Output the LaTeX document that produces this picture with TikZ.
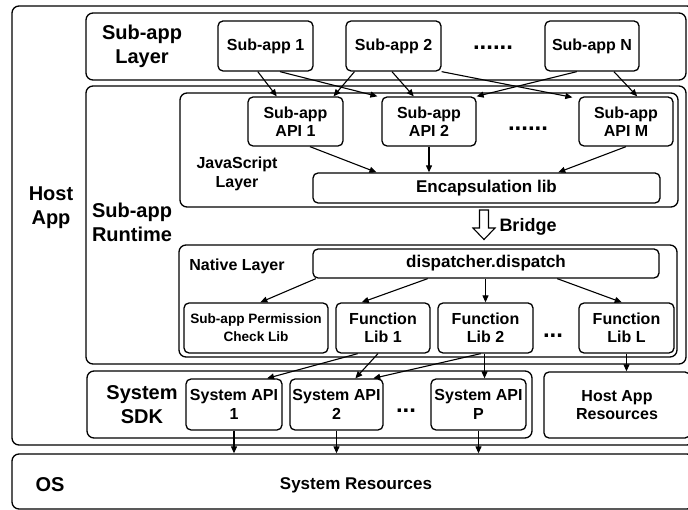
\documentclass[tikz,border=0pt]{standalone}
\usepackage{fontspec}
\setmainfont{Liberation Sans}
\usetikzlibrary{arrows.meta,calc}
\begin{document}
\begin{tikzpicture}[x=1pt,y=-1pt,
  box/.style={draw, rounded corners=5pt, line width=1.3pt, inner sep=0pt, align=center, font=\bfseries\fontsize{16}{18.5}\selectfont},
  grp/.style={draw, rounded corners=7pt, line width=1.3pt, inner sep=0pt},
  lab/.style={align=center, inner sep=0pt, font=\bfseries\fontsize{20}{24}\selectfont},
  arr/.style={line width=1.1pt, -{Triangle[length=7pt,width=6pt]}},
  dotsty/.style={anchor=base, inner sep=0pt, font=\bfseries\fontsize{24}{24}\selectfont}]
\useasboundingbox (0,0) rectangle (688,510);
\fill[white] (0,0) rectangle (688,510);
\clip (0,0) rectangle (688,510);

% group boxes
\node[grp, minimum width=682, minimum height=439] (host) at (353,225.5) {};
\node[grp, minimum width=682, minimum height=55] (os) at (353,481.5) {};
\node[grp, minimum width=600, minimum height=67] (layer) at (386,46.5) {};
\node[grp, minimum width=600, minimum height=278] (runtime) at (386,225) {};
\node[grp, minimum width=498, minimum height=114] (js) at (429,150) {};
\node[grp, minimum width=498, minimum height=112] (native) at (428,301) {};
\node[grp, minimum width=445, minimum height=67] (sdk) at (309.5,404.5) {};

% group labels
\node[lab] (hostlab) at (51,208) {Host\\App};
\node[lab] (oslab) at (50,485) {OS};
\node[box, draw=none, font=\bfseries\fontsize{17}{19}\selectfont] (sysres) at (356,485) {System Resources};
\node[lab] (layerlab) at (142,46) {Sub-app\\Layer};
\node[lab] (rtlab) at (132,222) {Sub-app\\Runtime};
\node[box, draw=none] (jslab) at (237,174) {JavaScript\\Layer};
\node[box, draw=none] (natlab) at (237,266) {Native Layer};
\node[lab] (sdklab) at (142,405) {System\\SDK};

% sub-apps
\node[box, minimum width=95, minimum height=50] (sa1) at (265.5,46) {Sub-app 1};
\node[box, minimum width=95, minimum height=50] (sa2) at (393.5,46) {Sub-app 2};
\node[box, minimum width=94, minimum height=50] (saN) at (592,46) {Sub-app N};
\node[dotsty] (d1) at (493,49.5) {......};

% APIs
\node[box, minimum width=95, minimum height=49] (api1) at (295.5,121.5) {Sub-app\\API 1};
\node[box, minimum width=94, minimum height=49] (api2) at (429,121.5) {Sub-app\\API 2};
\node[box, minimum width=94, minimum height=49] (apiM) at (626,121.5) {Sub-app\\API M};
\node[dotsty] (d2) at (528,131) {......};
\node[box, minimum width=347, minimum height=30, font=\bfseries\fontsize{17}{19}\selectfont] (enc) at (486.5,188) {Encapsulation lib};

% bridge
\draw[line width=1.1pt, fill=white] (479.5,210) -- (488.5,210) -- (488.5,228) -- (495,228) -- (484,239.5) -- (473,228) -- (479.5,228) -- cycle;
\node[box, draw=none, font=\bfseries\fontsize{18}{20}\selectfont] (bridge) at (528,227) {Bridge};

% native
\node[box, minimum width=346, minimum height=29, font=\bfseries\fontsize{17}{19}\selectfont] (disp) at (486,263.5) {dispatcher.dispatch};
\node[box, minimum width=144, minimum height=50, font=\bfseries\fontsize{13.6}{18}\selectfont] (perm) at (256,328) {Sub-app Permission\\Check Lib};
\node[box, minimum width=94, minimum height=50] (lib1) at (383,328) {Function\\Lib 1};
\node[box, minimum width=95, minimum height=50] (lib2) at (485.5,328) {Function\\Lib 2};
\node[box, minimum width=95, minimum height=50] (libL) at (626.5,328) {Function\\Lib L};
\node[dotsty] (d3) at (553,337.5) {...};

% sdk
\node[box, minimum width=96, minimum height=51] (sys1) at (234,404.5) {System API\\1};
\node[box, minimum width=93, minimum height=51] (sys2) at (336.5,404.5) {System API\\2};
\node[box, minimum width=95, minimum height=51] (sysP) at (478.5,404.5) {System API\\P};
\node[dotsty] (d4) at (406,412.5) {...};
\node[box, minimum width=146, minimum height=66] (har) at (617,405) {Host App\\Resources};

% sub-app -> API
\draw[arr] ($(sa1.south west)!0.42!(sa1.south east)$) -- ($(api1.north west)!0.305!(api1.north east)$);
\draw[arr] ($(sa1.south west)!0.65!(sa1.south east)$) -- ($(api2.north west)+(-4,0)$);
\draw[arr] ($(sa2.south west)!0.095!(sa2.south east)$) -- ($(api1.north west)!0.895!(api1.north east)$);
\draw[arr] ($(sa2.south west)!0.484!(sa2.south east)$) -- ($(api2.north west)!0.34!(api2.north east)$);
\draw[arr] (sa2.south east) -- ($(apiM.north west)+(-6,1)$);
\draw[arr] ($(saN.south west)!0.34!(saN.south east)$) -- (api2.north east);
\draw[arr] ($(saN.south west)!0.73!(saN.south east)$) -- ($(apiM.north west)!0.617!(apiM.north east)$);

% API -> encapsulation
\draw[arr] ($(api1.south west)!0.65!(api1.south east)$) -- ($(enc.north west)!0.184!(enc.north east)$);
\draw[arr] (api2.south) -- (api2.south |- enc.north);
\draw[arr] (apiM.south) -- ($(enc.north west)!0.706!(enc.north east)$);

% dispatcher -> libs
\draw[arr] ($(disp.south west)!0.01!(disp.south east)$) -- ($(perm.north west)!0.53!(perm.north east)$);
\draw[arr] ($(disp.south west)!0.332!(disp.south east)$) -- ($(lib1.north west)!0.277!(lib1.north east)$);
\draw[arr] (lib2.north |- disp.south) -- (lib2.north);
\draw[arr] ($(disp.south west)!0.705!(disp.south east)$) -- ($(libL.north west)!0.45!(libL.north east)$);

% libs -> system APIs
\draw[arr] ($(lib1.south west)!0.234!(lib1.south east)$) -- ($(sys1.north west)!0.84!(sys1.north east)$);
\draw[arr] ($(lib1.south west)!0.447!(lib1.south east)$) -- ($(sys2.north west)!0.70!(sys2.north east)$);
\draw[arr] ($(lib2.south west)!0.45!(lib2.south east)$) -- ($(sys2.north west)!0.89!(sys2.north east)$);
\coordinate (l2p) at ($(lib2.south west)!0.49!(lib2.south east)$);
\draw[arr] (l2p) -- (l2p |- sysP.north);
\draw[arr] (libL.south) -- (libL.south |- har.north);

% system APIs -> OS
\draw[arr] (sys1.south) -- (sys1.south |- os.north);
\draw[arr] (sys2.south) -- (sys2.south |- os.north);
\draw[arr] (sysP.south) -- (sysP.south |- os.north);
\end{tikzpicture}
\end{document}
